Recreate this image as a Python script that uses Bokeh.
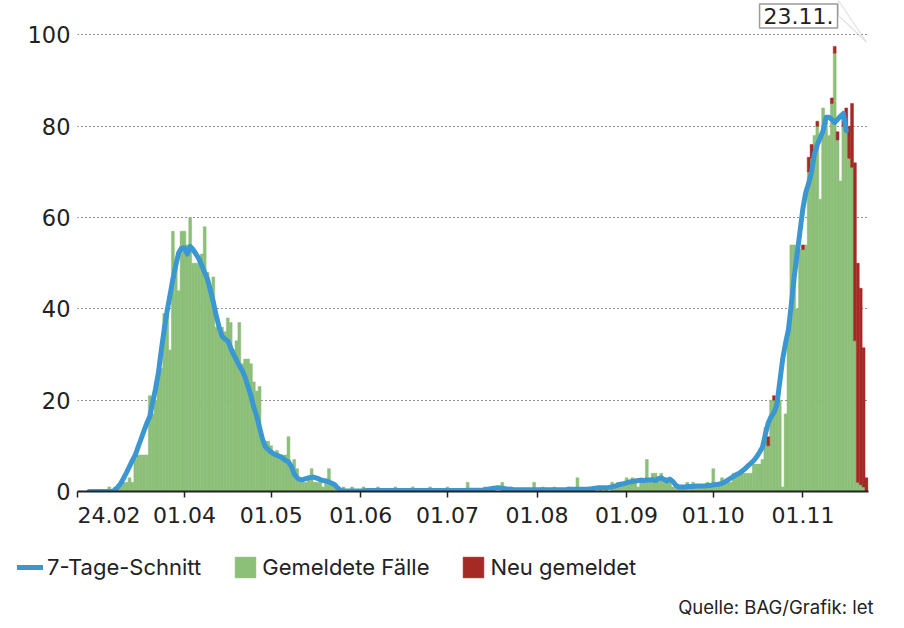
import pandas as pd
from bokeh.plotting import figure
from bokeh.layouts import column
from bokeh.models import Range1d, FixedTicker, Legend, LegendItem, Label, PolyAnnotation
from bokeh.embed import file_html
from bokeh.resources import INLINE

# ---------------- data ----------------
START = "2020-02-24"
TICK_DATES = ["2020-02-24", "2020-04-01", "2020-05-01", "2020-06-01", "2020-07-01",
              "2020-08-01", "2020-09-01", "2020-10-01", "2020-11-01"]
TICK_LABELS = ["24.02", "01.04", "01.05", "01.06", "01.07", "01.08", "01.09", "01.10", "01.11"]
Y_TICKS = [0, 20, 40, 60, 80, 100]

# daily reported deaths (one value per day from 24.02)
GREEN = [
    0, 0, 0, 0, 0, 0, 0, 0, 0, 0,            # 24.02 -
    0, 1, 0, 1, 1, 2, 2, 2, 3, 2,
    7, 8, 8, 8, 8, 21, 17, 20, 27, 27,
    39, 39, 31, 57, 50, 44, 57, 57, 54, 60,
    50, 50, 50, 52, 58, 48, 44, 47, 36, 36,
    36, 35, 38, 37, 31, 33, 37, 28, 29, 29,
    28, 24, 22, 23, 12, 11, 11, 10, 8, 9,
    8, 8, 8, 12, 5, 7, 5, 2, 2, 2,
    3, 5, 2, 2, 2, 1, 2, 5, 2, 1,
    0, 0, 1, 0, 0, 1, 0, 0, 0, 1,
    0, 0, 0, 0, 1, 0, 0, 0, 0, 0,
    1, 0, 0, 0, 0, 0, 1, 0, 0, 0,
    0, 0, 1, 0, 0, 0, 0, 0, 1, 0,
    0, 0, 0, 0, 0, 2, 0, 0, 0, 0,
    0, 1, 0, 0, 1, 0, 0, 2, 0, 0,
    1, 0, 0, 0, 0, 0, 0, 0, 2, 0,
    0, 1, 0, 0, 0, 1, 0, 0, 0, 0,
    1, 0, 0, 3, 0, 0, 0, 1, 0, 0,
    0, 1, 0, 1, 0, 2, 1, 2, 2, 2,
    3, 2, 3, 2, 1, 3, 2, 7, 2, 4,
    4, 3, 4, 2, 3, 2, 1, 1, 1, 1,
    1, 2, 1, 2, 1, 1, 1, 1, 2, 1,
    5, 2, 2, 3, 2, 2, 2, 4, 4, 4,
    4, 4, 4, 4, 6, 6, 6, 7, 14, 10,
    20, 20, 20, 20, 1, 17, 35, 54, 54, 40,
    53, 53, 54, 70, 73, 78, 80, 64, 84, 82,
    78, 85, 96, 77, 68, 80, 79, 73, 71, 33,
    2, 1.5, 1, 0,                            # - 23.11
]

# newly reported (stacked on top), day index from 24.02
RED_DAYS = [239, 241, 246, 251, 253, 254, 256, 261, 262, 263, 265, 266, 267, 268, 269, 270, 271, 272, 273]
RED_VALUES = [2, 1, 1, 1, 3.2, 3, 1.1, 1.2, 1.5, 1.8, 2, 5, 7, 14, 39, 48, 43, 30.5, 3]

# 7-day average, starting at day 4 (28.02)
AVG_START = 4
AVG = [
    0, 0, 0, 0, 0, 0,
    0, 0, 0, 0.3, 1, 1.8, 3, 4.2, 5.5, 6.8,
    8, 9.8, 11.5, 13.3, 15, 16.4, 19.5, 22.5, 26, 31,
    35.5, 39.5, 43, 46.5, 49.5, 52.3, 53.3, 53.4, 52, 53.7,
    53, 52, 51, 49.5, 48, 46.5, 44, 41.5, 38.5, 36,
    34, 33.4, 33, 31.5, 30, 28.8, 27.5, 26.5, 25, 23,
    21, 18.5, 16.5, 14, 11.5, 9.8, 9.2, 8.6, 8.2, 7.9,
    7.7, 7.3, 6.8, 6.5, 5.5, 3.8, 3.0, 2.6, 2.6, 2.8,
    3.0, 3.1, 3.1, 2.9, 2.6, 2.4, 2.3, 2.1, 1.8, 1.5,
    0.8, 0.2, 0.1, 0.1, 0.1, 0.1, 0.1, 0.1, 0.1, 0.1,
    0.2, 0.2, 0.2, 0.2, 0.2, 0.2, 0.2, 0.2, 0.2, 0.2,
    0.2, 0.2, 0.2, 0.2, 0.2, 0.2, 0.2, 0.2, 0.2, 0.2,
    0.2, 0.2, 0.2, 0.2, 0.2, 0.2, 0.2, 0.2, 0.2, 0.2,
    0.2, 0.2, 0.2, 0.2, 0.2, 0.3, 0.3, 0.3, 0.3, 0.3,
    0.3, 0.4, 0.5, 0.6, 0.7, 0.8, 0.8, 0.7, 0.6, 0.5,
    0.5, 0.4, 0.4, 0.4, 0.4, 0.4, 0.4, 0.4, 0.4, 0.4,
    0.4, 0.4, 0.4, 0.4, 0.4, 0.4, 0.4, 0.4, 0.4, 0.4,
    0.5, 0.5, 0.5, 0.5, 0.5, 0.5, 0.5, 0.5, 0.6, 0.7,
    0.8, 0.8, 0.8, 0.8, 0.9, 1.0, 1.2, 1.4, 1.6, 1.7,
    1.9, 2.1, 2.2, 2.3, 2.4, 2.4, 2.4, 2.5, 2.5, 2.6,
    2.4, 2.8, 3.0, 2.6, 2.3, 2.7, 2.2, 1.4, 1.0, 1.0,
    1.0, 1.1, 1.1, 1.1, 1.2, 1.2, 1.2, 1.2, 1.3, 1.3,
    1.5, 1.5, 1.6, 1.8, 2.1, 2.5, 2.9, 3.3, 3.7, 4.0,
    4.5, 5.0, 5.6, 6.2, 6.8, 7.6, 8.6, 9.7, 12.5, 15,
    16.4, 17.3, 19, 24, 29, 32.5, 35.5, 41, 47, 52,
    57, 62, 65.5, 67.5, 70, 74, 76, 77.5, 79, 82,
    82, 81.5, 80.8, 81.5, 82.2, 82.8, 79,
]

CALLOUT_TEXT = "23.11."
SOURCE_TEXT = "Quelle: BAG/Grafik: let"
LEGEND_LABELS = ["7-Tage-Schnitt", "Gemeldete Fälle", "Neu gemeldet"]

# ---------------- derived ----------------
start = pd.Timestamp(START)
days = list(range(len(GREEN)))
tick_pos = [(pd.Timestamp(d) - start).days for d in TICK_DATES]
red_bottom = [GREEN[d] for d in RED_DAYS]
red_top = [GREEN[d] + v for d, v in zip(RED_DAYS, RED_VALUES)]
avg_x = list(range(AVG_START, AVG_START + len(AVG)))

NUM_FONT = "DejaVu Sans"
FONT = "Inter"
TXT = "#222222"
GREEN_C = "#8cbf78"
RED_C = "#a42a26"
BLUE_C = "#3b97d2"
W = 900

# ---------------- main chart ----------------
p = figure(width=W, height=535, output_backend="svg", toolbar_location=None,
           x_range=Range1d(0, 273.7), y_range=Range1d(0, 107.55),
           min_border_left=77, min_border_right=32, min_border_top=0, min_border_bottom=44,
           background_fill_color="white", border_fill_color="white", outline_line_color=None)
p.frame_align = False

g_style = dict(fill_color=GREEN_C, line_color=GREEN_C, line_width=0.5)
r_style = dict(fill_color=RED_C, line_color=RED_C, line_width=0.5)
l_style = dict(line_color=BLUE_C, line_width=5, line_join="round", line_cap="round")

p.vbar(x=days, top=GREEN, width=1.0, bottom=0, **g_style)
p.vbar(x=RED_DAYS, top=red_top, bottom=red_bottom, width=1.0, **r_style)
p.line(x=avg_x, y=AVG, **l_style)

labels = dict(zip(tick_pos, TICK_LABELS))
labels[tick_pos[0]] = "\u00a0" * 9 + TICK_LABELS[0]   # first label starts at the axis origin
p.xaxis.ticker = FixedTicker(ticks=tick_pos)
p.xaxis.major_label_overrides = labels
p.xaxis.axis_line_color = "#222222"
p.xaxis.axis_line_width = 2
p.xaxis.major_tick_line_color = "#222222"
p.xaxis.major_tick_line_width = 1.5
p.xaxis.major_tick_out = 6
p.xaxis.major_tick_in = 0
p.xaxis.minor_tick_line_color = None
p.xaxis.major_label_standoff = 5
p.xaxis.major_label_text_font = NUM_FONT
p.xaxis.major_label_text_font_size = "22px"
p.xaxis.major_label_text_color = TXT

p.yaxis.ticker = FixedTicker(ticks=Y_TICKS)
p.yaxis.axis_line_color = None
p.yaxis.major_tick_line_color = None
p.yaxis.minor_tick_line_color = None
p.yaxis.major_tick_out = 0
p.yaxis.major_tick_in = 0
p.yaxis.major_label_standoff = 7
p.yaxis.major_label_text_font = NUM_FONT
p.yaxis.major_label_text_font_size = "22.5px"
p.yaxis.major_label_text_color = TXT

p.xgrid.grid_line_color = None
p.ygrid.grid_line_color = "#222222"
p.ygrid.grid_line_width = 1.2
p.ygrid.grid_line_dash = "1 3"

# callout for the last date
tail = PolyAnnotation(xs=[263.3, 273.0, 263.3], ys=[107.55, 98.4, 104.3],
                      fill_color="white", fill_alpha=1, line_color="#9a9a9a", line_width=1.2)
p.add_layout(tail)
callout = Label(x=249.5, y=101.5, text=CALLOUT_TEXT, text_align="center", text_baseline="bottom",
                text_font=NUM_FONT, text_font_size="22px", text_color=TXT,
                background_fill_color="white", border_line_color="#9a9a9a", border_line_width=1.5,
                padding=4)
p.add_layout(callout)

# ---------------- legend + source strip (pixel coordinates) ----------------
q = figure(width=W, height=85, output_backend="svg", toolbar_location=None,
           x_range=Range1d(0, W), y_range=Range1d(0, 85),
           min_border=0, min_border_left=0, min_border_right=0, min_border_top=0, min_border_bottom=0,
           outline_line_color=None, x_axis_type=None, y_axis_type=None,
           background_fill_color="white", border_fill_color="white")
q.frame_align = False
q.grid.visible = False
nan = float("nan")
lr = q.line(x=[nan], y=[nan], **l_style)
gr = q.vbar(x=[nan], top=[nan], width=1, **g_style)
rr = q.vbar(x=[nan], top=[nan], width=1, **r_style)

legend = Legend(items=[LegendItem(label=LEGEND_LABELS[0], renderers=[lr]),
                       LegendItem(label=LEGEND_LABELS[1], renderers=[gr]),
                       LegendItem(label=LEGEND_LABELS[2], renderers=[rr])],
                location=(17, 40), orientation="horizontal",
                glyph_width=26, glyph_height=26, label_standoff=4, spacing=31,
                padding=0, margin=0, border_line_color=None, background_fill_alpha=0,
                label_text_font=FONT, label_text_font_size="22px", label_text_color=TXT,
                label_text_baseline="middle")
q.add_layout(legend, "center")

source = Label(x=873, y=14, text=SOURCE_TEXT, text_align="right", text_baseline="alphabetic",
               text_font=FONT, text_font_size="18.5px", text_color=TXT)
q.add_layout(source)

open("out.html", "w").write(file_html(column(p, q, spacing=0), INLINE))
